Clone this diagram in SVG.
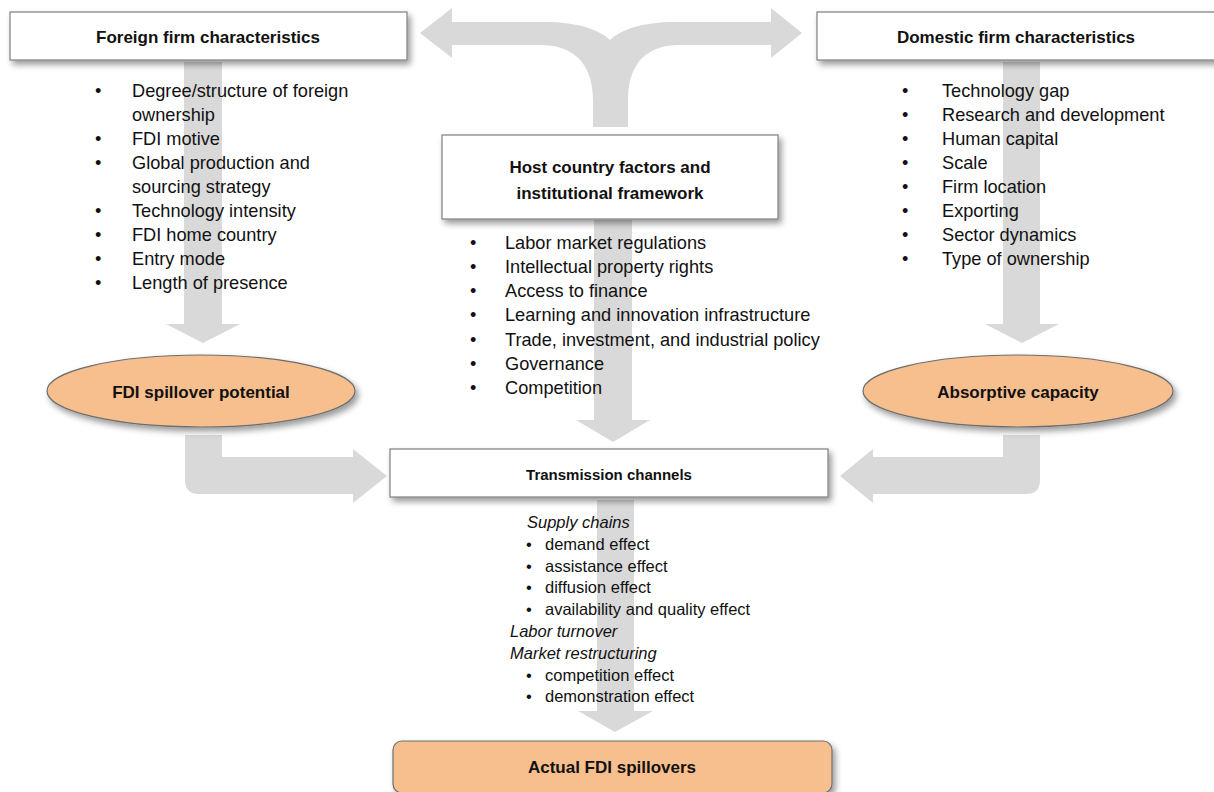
<svg xmlns="http://www.w3.org/2000/svg" width="1214" height="792" viewBox="0 0 1214 792">
<defs>
<filter id="sh" x="-10%" y="-30%" width="120%" height="170%">
<feDropShadow dx="3" dy="4" stdDeviation="3" flood-color="#000" flood-opacity="0.4"/>
</filter>
<style>
.arr{fill:#d9d9d9}
.box{fill:#fff;stroke:#7f7f7f;stroke-width:1.2}
.oval{fill:#f8bf8e;stroke:#6e6e6e;stroke-width:1.2}
.t{font-family:"Liberation Sans",Arial,sans-serif;font-weight:bold;font-size:17px;fill:#111;text-anchor:middle}
.l{font-family:"Liberation Sans",Arial,sans-serif;font-size:18.2px;fill:#111}
.s{font-family:"Liberation Sans",Arial,sans-serif;font-size:16.5px;fill:#111}
.i{font-style:italic}
</style>
</defs>
<g id="connectors">
<path class="arr" d="M420,33 L452,8 L452,22 L545,22 C578,22 600,30 610,40 C620,30 642,22 675,22 L771,22 L771,8 L802,33 L771,58 L771,45 L680,45 C648,45 628,62 628,100 L628,127 L593,127 L593,100 C593,62 572,45 540,45 L452,45 L452,58 Z"/>
<path class="arr" d="M184,62 L222,62 L222,324 L240,324 L203,343 L166,324 L184,324 Z"/>
<path class="arr" d="M1003,62 L1040,62 L1040,324 L1059,324 L1022,343 L985,324 L1003,324 Z"/>
<path class="arr" d="M594,220 L632,220 L632,420 L650,420 L613,442 L576,420 L594,420 Z"/>
<path class="arr" d="M597,500 L634,500 L634,711 L653,711 L615,732 L578,711 L597,711 Z"/>
<path class="arr" d="M185,435 L222,435 L222,457 L353,457 L353,449 L387,476 L353,503 L353,494 L199,494 Q185,494 185,480 Z"/>
<path class="arr" d="M1040,435 L1003,435 L1003,457 L873,457 L873,449 L840,476 L873,503 L873,494 L1026,494 Q1040,494 1040,480 Z"/>
</g>
<g id="foreign">
<rect class="box" x="10" y="12" width="397" height="48" filter="url(#sh)"/>
<text class="t" x="208" y="43">Foreign firm characteristics</text>
<g class="l">
<text x="95" y="97">•</text><text x="132" y="97">Degree/structure of foreign</text>
<text x="132" y="121">ownership</text>
<text x="95" y="145">•</text><text x="132" y="145">FDI motive</text>
<text x="95" y="169">•</text><text x="132" y="169">Global production and</text>
<text x="132" y="193">sourcing strategy</text>
<text x="95" y="217">•</text><text x="132" y="217">Technology intensity</text>
<text x="95" y="241">•</text><text x="132" y="241">FDI home country</text>
<text x="95" y="265">•</text><text x="132" y="265">Entry mode</text>
<text x="95" y="289">•</text><text x="132" y="289">Length of presence</text>
</g>
</g>
<g id="domestic">
<rect class="box" x="817" y="12" width="400" height="48" filter="url(#sh)"/>
<text class="t" x="1016" y="43">Domestic firm characteristics</text>
<g class="l">
<text x="902" y="97">•</text><text x="942" y="97">Technology gap</text>
<text x="902" y="121">•</text><text x="942" y="121">Research and development</text>
<text x="902" y="145">•</text><text x="942" y="145">Human capital</text>
<text x="902" y="169">•</text><text x="942" y="169">Scale</text>
<text x="902" y="193">•</text><text x="942" y="193">Firm location</text>
<text x="902" y="217">•</text><text x="942" y="217">Exporting</text>
<text x="902" y="241">•</text><text x="942" y="241">Sector dynamics</text>
<text x="902" y="265">•</text><text x="942" y="265">Type of ownership</text>
</g>
</g>
<g id="host">
<rect class="box" x="442" y="135" width="336" height="84" filter="url(#sh)"/>
<text class="t" x="610" y="173">Host country factors and</text>
<text class="t" x="610" y="199">institutional framework</text>
<g class="l">
<text x="470" y="249">•</text><text x="505" y="249">Labor market regulations</text>
<text x="470" y="273">•</text><text x="505" y="273">Intellectual property rights</text>
<text x="470" y="297">•</text><text x="505" y="297">Access to finance</text>
<text x="470" y="321">•</text><text x="505" y="321">Learning and innovation infrastructure</text>
<text x="470" y="346">•</text><text x="505" y="346">Trade, investment, and industrial policy</text>
<text x="470" y="370">•</text><text x="505" y="370">Governance</text>
<text x="470" y="394">•</text><text x="505" y="394">Competition</text>
</g>
</g>
<g id="spillover-potential">
<ellipse class="oval" cx="201" cy="391" rx="154" ry="36" filter="url(#sh)"/>
<text class="t" x="201" y="398">FDI spillover potential</text>
</g>
<g id="absorptive-capacity">
<ellipse class="oval" cx="1018" cy="391" rx="155" ry="36" filter="url(#sh)"/>
<text class="t" x="1018" y="398">Absorptive capacity</text>
</g>
<g id="transmission">
<rect class="box" x="390" y="449" width="438" height="48" filter="url(#sh)"/>
<text class="t" x="609" y="480" style="font-size:15px">Transmission channels</text>
<g class="s">
<text class="i" x="527" y="528">Supply chains</text>
<text x="526" y="550">•</text><text x="545" y="550">demand effect</text>
<text x="526" y="572">•</text><text x="545" y="572">assistance effect</text>
<text x="526" y="593">•</text><text x="545" y="593">diffusion effect</text>
<text x="526" y="615">•</text><text x="545" y="615">availability and quality effect</text>
<text class="i" x="510" y="637">Labor turnover</text>
<text class="i" x="510" y="659">Market restructuring</text>
<text x="526" y="681">•</text><text x="545" y="681">competition effect</text>
<text x="526" y="702">•</text><text x="545" y="702">demonstration effect</text>
</g>
</g>
<g id="actual-spillovers">
<rect class="oval" x="393" y="741" width="439" height="52" rx="9" filter="url(#sh)"/>
<text class="t" x="612" y="773">Actual FDI spillovers</text>
</g>
</svg>
